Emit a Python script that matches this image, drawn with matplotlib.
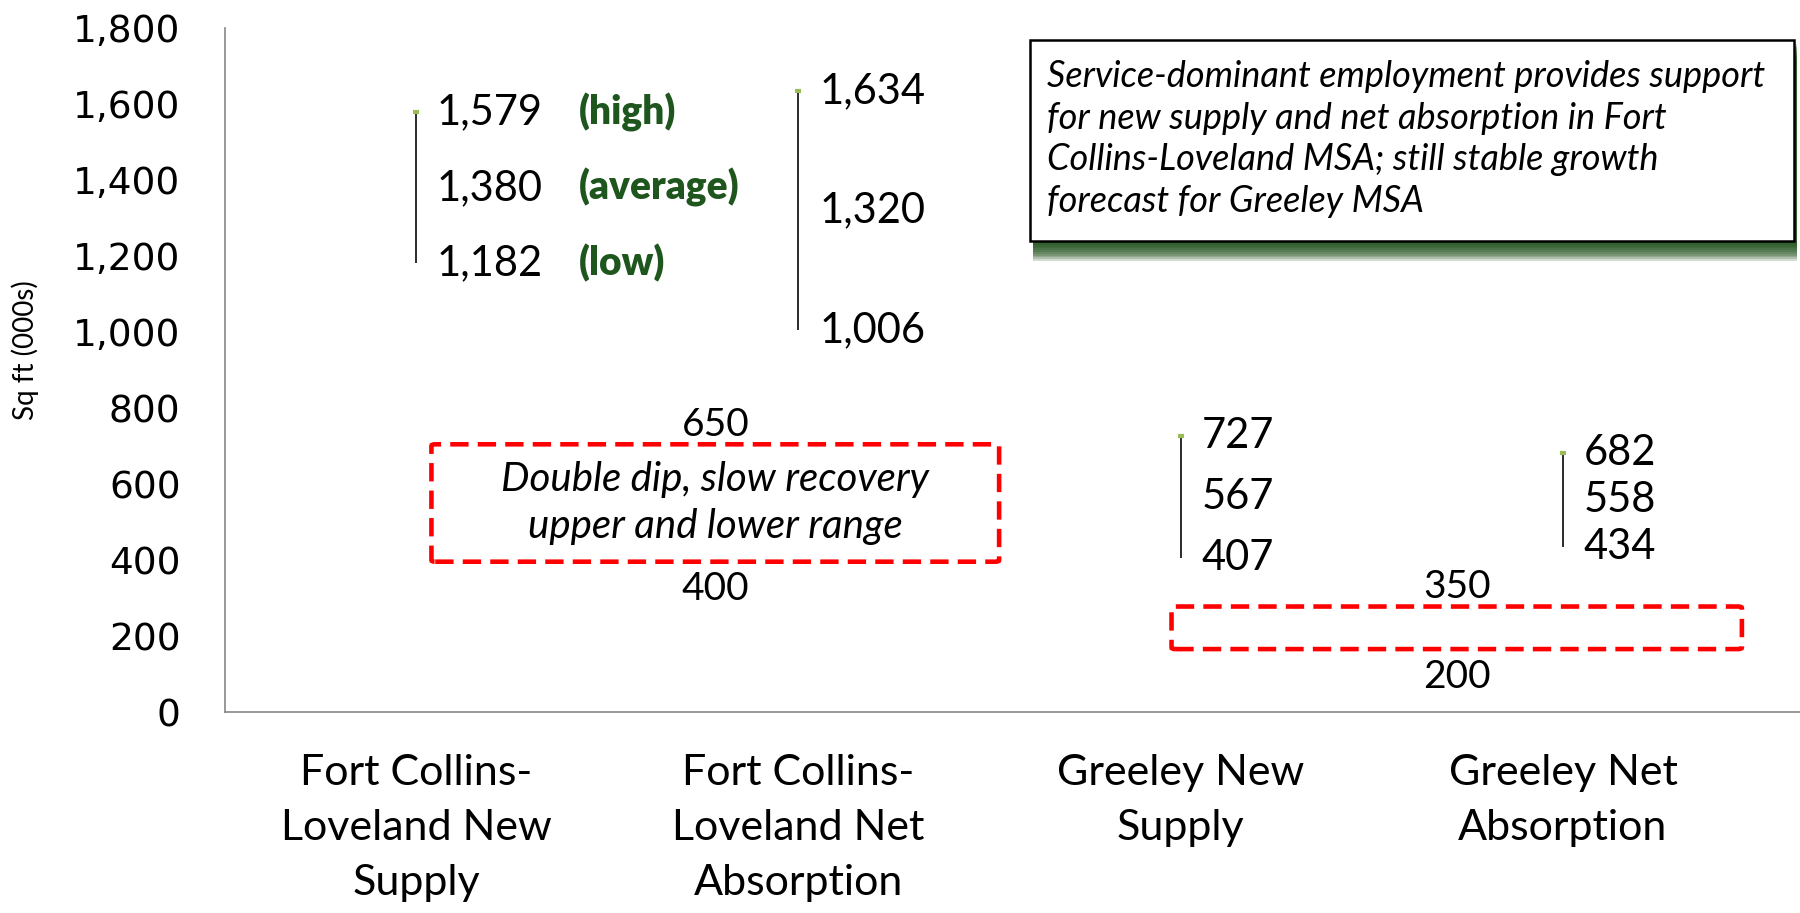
import numpy as np
import matplotlib
matplotlib.use('Agg')
import matplotlib.pyplot as plt
from matplotlib.patches import Rectangle, FancyBboxPatch

# forecast ranges, sq ft (000s)
categories = ['Fort Collins-\nLoveland New\nSupply', 'Fort Collins-\nLoveland Net\nAbsorption',
              'Greeley New\nSupply', 'Greeley Net\nAbsorption']
high = [1579, 1634, 727, 682]
average = [1380, 1320, 567, 558]
low = [1182, 1006, 407, 434]
range_names = ['(high)', '(average)', '(low)']

# double dip scenario ranges (upper, lower)
dip_upper = [650, 350]
dip_lower = [400, 200]
dip_text = ['Double dip, slow recovery\nupper and lower range', '']

note = ('Service-dominant employment provides support\n'
        'for new supply and net absorption in Fort\n'
        'Collins-Loveland MSA; still stable growth\n'
        'forecast for Greeley MSA')

CAL = 'Lato'
GREEN = '#1E561E'

fig = plt.figure(figsize=(18, 9.13), dpi=100)
ax = fig.add_axes([0.125, 0.22, 0.875, 0.749])

x = np.arange(len(categories))
ax.vlines(x, low, high, color='#1a1a1a', lw=1.3, zorder=3)
ax.plot(x, high, ls='none', marker='_', ms=5, mew=3, color='#9BBB59', zorder=4)

for i in x:
    for v in (high[i], average[i], low[i]):
        ax.annotate(f'{v:,}', (i, v), xytext=(15, 0), textcoords='offset points',
                    ha='left', va='center', fontsize=30, family=CAL)
for name, v in zip(range_names, (high[0], average[0], low[0])):
    ax.annotate(name, (0, v), xytext=(117, 0), textcoords='offset points',
                ha='left', va='center', fontsize=28, family=CAL,
                fontweight='heavy', color=GREEN)

# dashed scenario boxes (shape extents)
boxes = [(0.04, 396, 1.485, 309), (1.976, 166, 1.492, 112)]
for (bx, by, bw, bh), up, lo, txt in zip(boxes, dip_upper, dip_lower, dip_text):
    ax.add_patch(FancyBboxPatch((bx, by), bw, bh, boxstyle='round,pad=0,rounding_size=0.01',
                                fill=False, ec='#FF0000', lw=3.3, ls=(0, (4, 2)),
                                mutation_aspect=400, zorder=2))
    cx = bx + bw / 2
    ax.annotate(str(up), (cx, by + bh), xytext=(0, 1), textcoords='offset points',
                ha='center', va='bottom', fontsize=28, family=CAL)
    ax.annotate(str(lo), (cx, by), xytext=(0, -7), textcoords='offset points',
                ha='center', va='top', fontsize=28, family=CAL)
    if txt:
        ax.text(cx, by + bh / 2, txt, ha='center', va='center', fontsize=29,
                family=CAL, style='italic', linespacing=1.35)

ax.set_xlim(-0.5, 3.62)
ax.set_ylim(0, 1800)
ax.set_yticks(np.arange(0, 1801, 200))
ax.yaxis.set_major_formatter(matplotlib.ticker.FuncFormatter(lambda v, p: f'{int(v):,}'))
ax.set_xticks(x)
ax.set_xticklabels(categories, fontsize=31, family=CAL, linespacing=1.55)
ax.tick_params(axis='y', length=0, pad=32, labelsize=27)
ax.tick_params(axis='x', length=0, pad=30)
for s in ('top', 'right'):
    ax.spines[s].set_visible(False)
for s in ('left', 'bottom'):
    ax.spines[s].set_color('#868686')
    ax.spines[s].set_linewidth(1.2)
ax.set_ylabel('Sq ft (000s)', fontsize=20, family=CAL)
ax.yaxis.set_label_coords(-0.118, 0.53)

# note box with green shadow
bl, bb, bw_, bh_ = 1030 / 1800, 1 - 241 / 913, 764 / 1800, 201 / 913
n = 10
for k in range(n):
    off = (n - k) * 1.8
    fig.patches.append(Rectangle((bl + 3 / 1800, bb - (off + 2) / 913), bw_, bh_,
                                 transform=fig.transFigure, fc='#1E4F1A', ec='none',
                                 alpha=0.2, zorder=1))
fig.patches.append(Rectangle((bl, bb), bw_, bh_, transform=fig.transFigure,
                             fc='white', ec='black', lw=1.8, zorder=2))
fig.text(1047 / 1800, 1 - 60 / 913, note, ha='left', va='top', fontsize=26,
         family=CAL, style='italic', linespacing=1.32, zorder=3)

fig.savefig('out.png', dpi=100)
